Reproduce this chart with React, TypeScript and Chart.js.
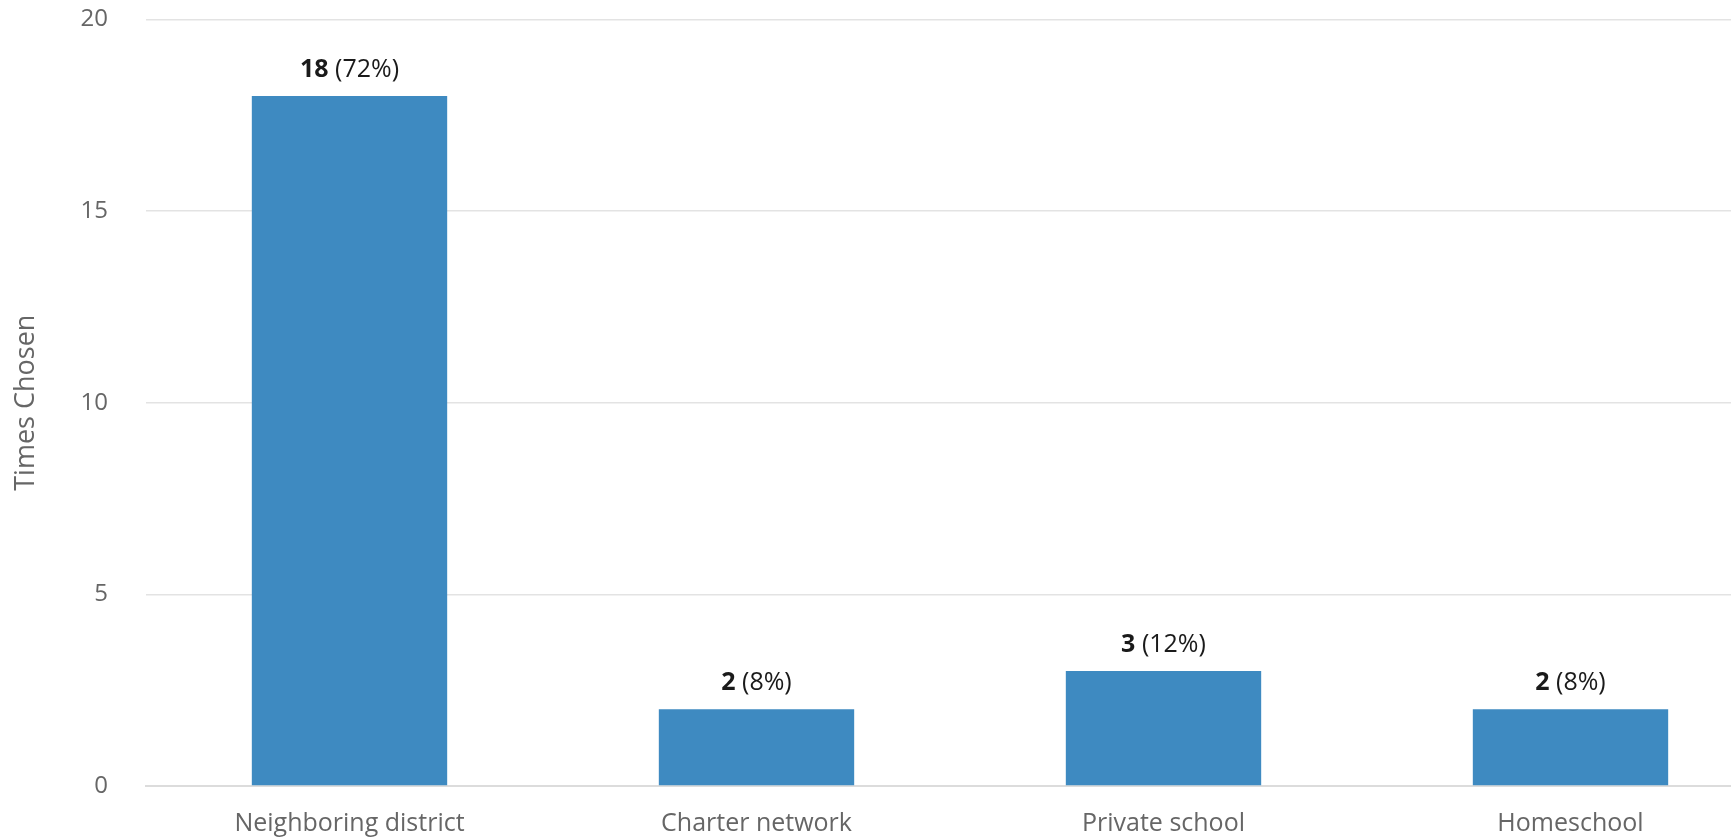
import React, { useEffect, useRef } from "react";
import { Chart, registerables } from "chart.js";

Chart.register(...registerables);

const categories = ["Neighboring district", "Charter network", "Private school", "Homeschool"];
const counts = [18, 2, 3, 2];
const percents = ["72%", "8%", "12%", "8%"];
const yTicks = [0, 5, 10, 15, 20];

const FONT = "'Open Sans', 'Noto Sans', sans-serif";
const SHIFT = 33;

const valueLabelPlugin = {
  id: "valueLabels",
  afterDatasetsDraw(chart: any) {
    const ctx = chart.ctx;
    const meta = chart.getDatasetMeta(0);
    ctx.save();
    ctx.textBaseline = "alphabetic";
    ctx.fillStyle = "#1a1a1a";
    meta.data.forEach((bar: any, i: number) => {
      const bold = String(counts[i]);
      const rest = " (" + percents[i] + ")";
      ctx.font = `bold 25px ${FONT}`;
      const wb = ctx.measureText(bold).width;
      ctx.font = `25px ${FONT}`;
      const wr = ctx.measureText(rest).width;
      const x0 = bar.x - (wb + wr) / 2;
      const y = bar.y - 19;
      ctx.textAlign = "left";
      ctx.font = `bold 25px ${FONT}`;
      ctx.fillText(bold, x0, y);
      ctx.font = `25px ${FONT}`;
      ctx.fillText(rest, x0 + wb, y);
    });
    ctx.restore();
  },
};

export default function App() {
  const ref = useRef<HTMLCanvasElement>(null);
  useEffect(() => {
    if (!ref.current) return;
    const chart = new Chart(ref.current, {
      type: "bar",
      data: {
        labels: categories,
        datasets: [
          {
            data: counts,
            backgroundColor: "#3e8ac1",
            barPercentage: 0.48,
            categoryPercentage: 1,
          },
        ],
      },
      options: {
        animation: false,
        responsive: false,
        layout: { padding: { top: -12, right: 2, left: 0, bottom: 0 } },
        plugins: { legend: { display: false }, tooltip: { enabled: false } },
        scales: {
          x: {
            grid: { display: false, drawTicks: false },
            border: { display: true, color: "#dcdcdc", width: 2 },
            ticks: { color: "#666", font: { family: FONT, size: 25 }, padding: 23 },
            afterFit: (s: any) => {
              s.height = 53;
            },
          },
          y: {
            min: 0,
            max: 20,
            afterBuildTicks: (s: any) => {
              s.ticks = yTicks.map((v) => ({ value: v }));
            },
            grid: { color: "#e3e3e3", drawTicks: false, lineWidth: 1.5 },
            border: { display: false },
            ticks: { color: "#666", font: { family: FONT, size: 24 }, padding: 38 },
            title: {
              display: true,
              text: "Times Chosen",
              color: "#666",
              font: { family: FONT, size: 27 },
              padding: { top: 10, bottom: 0 },
            },
            afterFit: (s: any) => {
              s.width = 146;
            },
          },
        },
      },
      plugins: [valueLabelPlugin],
    });
    return () => chart.destroy();
  }, []);
  return (
    <div style={{ position: "fixed", left: 0, top: 0, width: 1731, height: 839, overflow: "hidden", background: "#fff" }}>
      <canvas
        ref={ref}
        width={1776}
        height={839 + SHIFT}
        style={{ display: "block", position: "absolute", left: 0, top: -SHIFT, width: 1776, height: 839 + SHIFT }}
      />
    </div>
  );
}
